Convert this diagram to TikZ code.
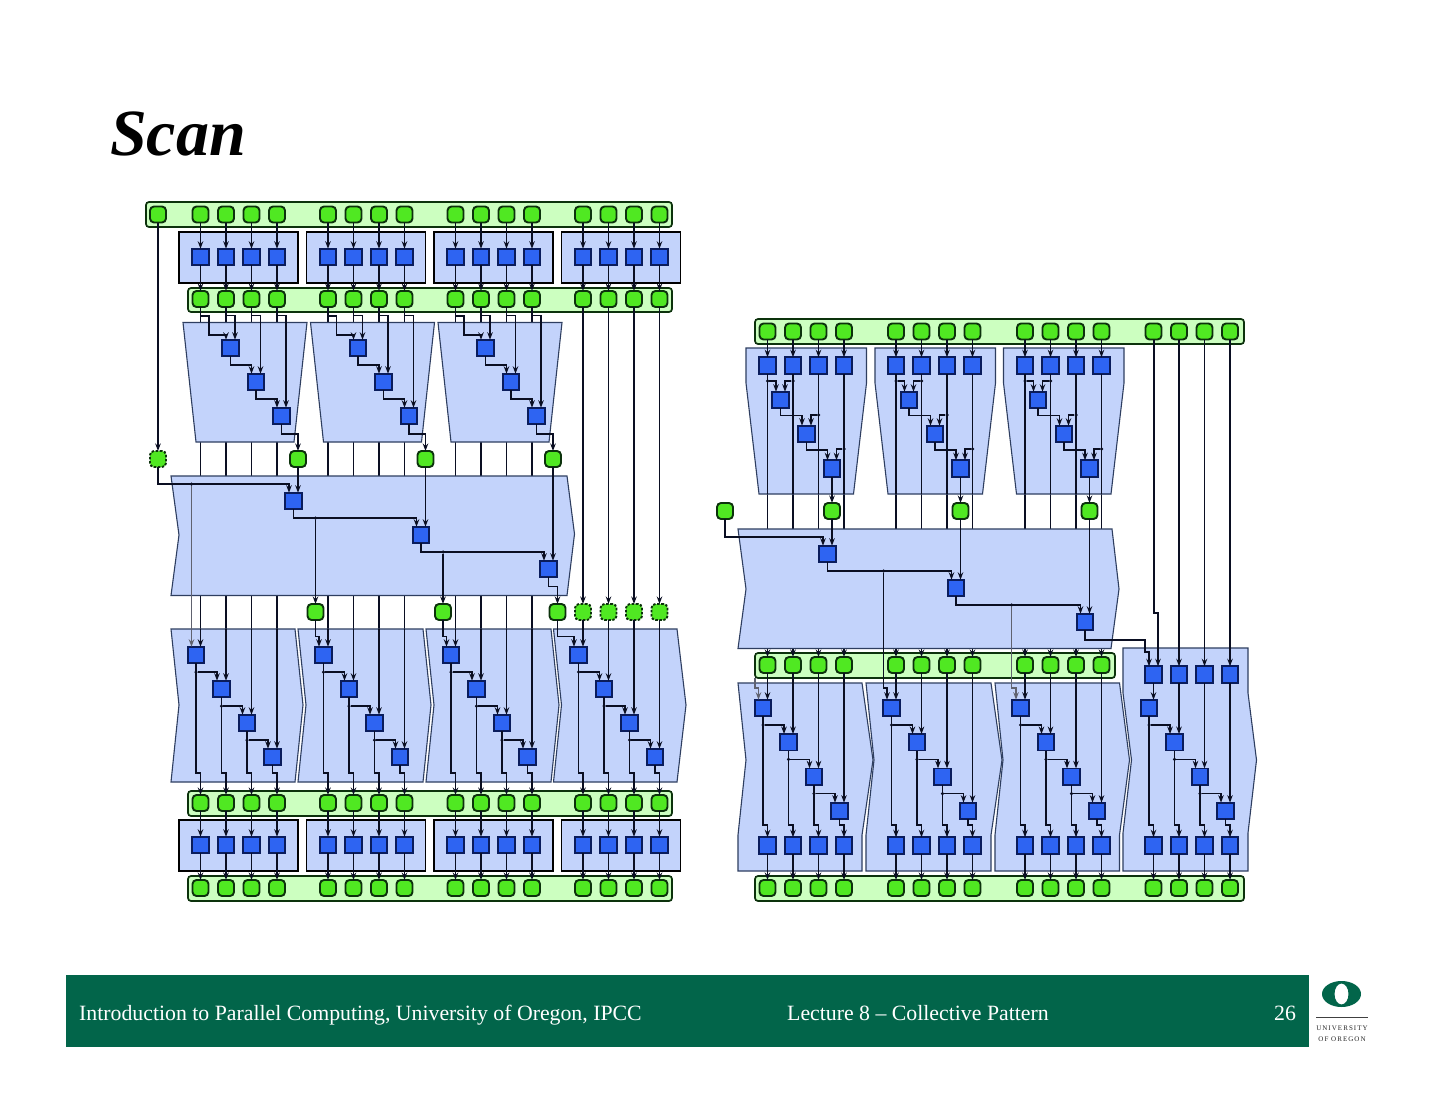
\documentclass[tikz,border=0pt]{standalone}
\usepackage{fontspec}
\setmainfont{Liberation Serif}
\newfontfamily\logofont[LetterSpace=15]{Liberation Serif}
\usetikzlibrary{arrows.meta}
\pgfdeclarelayer{under}
\pgfdeclarelayer{panel}
\pgfsetlayers{under,panel,main}
\definecolor{gfill}{HTML}{50E822}
\definecolor{gline}{HTML}{0C320C}
\definecolor{bfill}{HTML}{2E64F2}
\definecolor{bline}{HTML}{0A1C5C}
\definecolor{pfill}{HTML}{C3D3FB}
\definecolor{pline}{HTML}{2E3E60}
\definecolor{barfill}{HTML}{CCFFC0}
\definecolor{uogreen}{HTML}{02654A}
\definecolor{wire}{HTML}{0A0E22}
\tikzset{
  gn/.style={draw=gline,fill=gfill,line width=1.9pt,rounded corners=4pt,minimum size=16pt,inner sep=0pt,outer sep=0pt},
  gnd/.style={gn,dash pattern=on 2.5pt off 1.5pt},
  sq/.style={draw=bline,fill=bfill,line width=1.7pt,minimum size=16.5pt,inner sep=0pt,outer sep=0pt},
  dot/.style={circle,fill=wire,minimum size=3.5pt,inner sep=0pt,outer sep=0pt},
  wr/.style={draw=wire,line width=1.5pt},
  conn/.style={wr,-{Stealth[length=7.5pt,width=5.5pt]}},
  fat/.style={line width=2pt},
  faint/.style={draw=wire!65!white,line width=1.2pt},
  pan/.style={fill=pfill,draw=pline,line width=1.1pt,line join=miter},
  box/.style={fill=pfill,draw=black,line width=1.7pt},
  bar/.style={fill=barfill,draw=gline,line width=1.7pt,rounded corners=3pt},
  foot/.style={text=white,font=\fontsize{21.8pt}{24pt}\selectfont,inner sep=0pt,anchor=base west}
}
\begin{document}
\begin{tikzpicture}[x=1pt,y=-1pt]
\useasboundingbox (0,0) rectangle (1440,1113);
\begin{pgfonlayer}{under}
\fill[white] (0,0) rectangle (1440,1113);
\end{pgfonlayer}
% ---------- title and footer
\node[font=\fontsize{66pt}{70pt}\selectfont\bfseries\itshape,inner sep=0pt,anchor=base west] (title) at (110,155) {Scan};
\fill[uogreen] (66,975) rectangle (1309,1047);
\node[foot] (f1) at (79,1020) {Introduction to Parallel Computing, University of Oregon, IPCC};
\node[foot] (f2) at (787,1020) {Lecture 8 -- Collective Pattern};
\node[foot] (f3) at (1274,1020) {26};
\fill[uogreen,even odd rule] (1341.5,994) ellipse [x radius=19.5,y radius=13] (1341.5,994) ellipse [x radius=7,y radius=10.5];
\draw[black!75,line width=0.8pt] (1316,1017) -- (1368,1017);
\node[font=\logofont\fontsize{7pt}{8pt}\selectfont,text=black!85,inner sep=0pt] (u1) at (1342,1028) {UNIVERSITY};
\node[font=\logofont\fontsize{7pt}{8pt}\selectfont,text=black!85,inner sep=0pt] (u2) at (1342,1039.5) {OF OREGON};
% ========== LEFT DIAGRAM ==========
\begin{pgfonlayer}{panel}
\draw[bar] (146,202) rectangle (672,227);
\draw[bar] (188,288) rectangle (672,312);
\draw[bar] (188,791) rectangle (672,816);
\draw[bar] (188,876) rectangle (672,901);
\draw[pan] (171,476) -- (567,476) -- (574.5,534) -- (567,595.5) -- (171,595.5) -- (179,535) -- cycle;
\foreach \l/\r/\t in {171/295/8,298/423/8,426/551/8,553.5/677/9}{
  \draw[pan] (\l,629) -- (\r,629) -- (\r+\t,705) -- (\r,782) -- (\l,782) -- (\l+8,705) -- cycle;
}
\end{pgfonlayer}
\node[gn] (t0) at (158,214.5) {};
\node[gnd] (d0) at (158,459) {};
\draw[conn] (t0) -- (d0);
\foreach \g/\b in {1/200.5,2/328,3/455.5,4/583}{
  \begin{pgfonlayer}{panel}
    \draw[box] (\b-21.5,232) rectangle (\b+97.5,283);
    \draw[box] (\b-21.5,820) rectangle (\b+97.5,871);
  \end{pgfonlayer}
  \foreach \i/\d in {1/0,2/25.5,3/51,4/76.5}{
    \node[gn] (t\g-\i) at (\b+\d,214.5) {};
    \node[sq] (u\g-\i) at (\b+\d,257) {};
    \node[gn] (v\g-\i) at (\b+\d,299) {};
    \node[sq] (p\g-\i) at (\b+\d-4.5,655+34*\i-34) {};
    \node[gn] (w\g-\i) at (\b+\d,803) {};
    \node[sq] (x\g-\i) at (\b+\d,845) {};
    \node[gn] (z\g-\i) at (\b+\d,888) {};
    \coordinate (pj\g-\i) at (\b+\d-4.5,773);
    \draw[conn] (t\g-\i) -- (u\g-\i);
    \draw[conn] (u\g-\i) -- (v\g-\i);
    \draw[conn] (p\g-\i.south) -- (pj\g-\i) -| (w\g-\i.north);
    \draw[conn] (w\g-\i) -- (x\g-\i);
    \draw[conn] (x\g-\i) -- (z\g-\i);
  }
  \foreach \i/\n/\d in {1/2/0,2/3/25.5,3/4/51}{
    \node[dot] (pd\g-\i) at (\b+\d-4.5,672+34*\i-34) {};
    \draw[conn] (pd\g-\i) -| ([xshift=-4.5]p\g-\n.north);
  }
}
% three reduction trapezoids and what hangs off them
\foreach \g/\b in {1/200.5,2/328,3/455.5}{
  \begin{pgfonlayer}{panel}
    \draw[pan] (\b-17.5,322.5) -- (\b+106.5,322.5) -- (\b+93.5,442) -- (\b-4.5,442) -- cycle;
  \end{pgfonlayer}
  \node[sq] (s\g-1) at (\b+30,348) {};
  \node[sq] (s\g-2) at (\b+55.5,382) {};
  \node[sq] (s\g-3) at (\b+81,416) {};
  \node[gn] (m\g) at (\b+97.5,459) {};
  \node[sq] (b\g) at (\b+93,501+34*\g-34) {};
  \coordinate (ja\g) at (\b+8.5,316);
  \coordinate (jb\g) at (\b+8.5,335);
  \draw[conn] (v\g-1.south) |- (ja\g) -- (jb\g) -| ([xshift=-4.5]s\g-1.north);
  \draw[conn] (v\g-2.south) -- ++(0,8.5) -| ([xshift=4.5]s\g-1.north);
  \draw[conn] (v\g-3.south) -- ++(0,8.5) -| ([xshift=4.5]s\g-2.north);
  \draw[conn] (v\g-4.south) -- ++(0,8.5) -| ([xshift=4.5]s\g-3.north);
  \draw[conn] (s\g-1.south) -- ++(0,8.5) -| ([xshift=-4.5]s\g-2.north);
  \draw[conn] (s\g-2.south) -- ++(0,8.5) -| ([xshift=-4.5]s\g-3.north);
  \draw[conn] (s\g-3.south) -- ++(0,9.5) -| (m\g.north);
  \draw[conn] (m\g) -- ([xshift=4.5]b\g.north);
  \foreach \i/\d in {1/0,2/25.5,3/51,4/76.5}{
    \coordinate (in\g-\i) at (\b+\d,629);
    \begin{pgfonlayer}{under}
      \draw[wr] (v\g-\i.south) -- (in\g-\i);
    \end{pgfonlayer}
    \draw[conn] (in\g-\i) -- ([xshift=4.5]p\g-\i.north);
  }
}
% scan band chain
\draw[conn,fat] (d0.south) -- ++(0,16.5) -| ([xshift=-4.5]b1.north);
\draw[conn] (b1.south) -- ++(0,8.5) -| ([xshift=-4.5]b2.north);
\draw[conn] (b2.south) -- ++(0,8.5) -| ([xshift=-4.5]b3.north);
\node[dot] (bd0) at (191.5,484) {};
\node[dot] (bd1) at (315.5,518) {};
\node[dot] (bd2) at (443,552) {};
\node[gn] (r2) at (315.5,612) {};
\node[gn] (r3) at (443,612) {};
\node[gn] (r4) at (557.5,612) {};
\draw[conn,faint] (bd0) -- ([xshift=-4.5]p1-1.north);
\draw[conn] (bd1) -- (r2);
\draw[conn] (bd2) -- (r3);
\draw[conn] (b3.south) -- ++(0,9) -| (r4.north);
\draw[conn] (r2.south) -- ++(0,16.5) -| ([xshift=-4.5]p2-1.north);
\draw[conn] (r3.south) -- ++(0,16.5) -| ([xshift=-4.5]p3-1.north);
\draw[conn] (r4.south) -- ++(0,16.5) -| ([xshift=-4.5]p4-1.north);
\foreach \i/\d in {1/0,2/25.5,3/51,4/76.5}{
  \node[gnd] (e\i) at (583+\d,612) {};
  \draw[conn] (v4-\i) -- (e\i);
  \draw[conn] (e\i) -- ([xshift=4.5]p4-\i.north);
}
% ========== RIGHT DIAGRAM ==========
\begin{pgfonlayer}{panel}
\draw[bar] (755,319) rectangle (1244,344);
\draw[bar] (755,653) rectangle (1115,678);
\draw[bar] (755,876) rectangle (1244,901);
\draw[pan] (738,529) -- (1112,529) -- (1119,589) -- (1111,648.5) -- (738,648.5) -- (746,589) -- cycle;
\foreach \l/\r/\t in {738/862/11,866/991/11,995/1119.5/10}{
  \draw[pan] (\l,683) -- (\r,683) -- (\r+\t,760) -- (\r,835) -- (\r,871) -- (\l,871) -- (\l,835) -- (\l+8,760) -- cycle;
}
\draw[pan] (1123,648) -- (1248,648) -- (1248,693) -- (1256.5,760) -- (1248,833) -- (1248,871) -- (1123,871) -- (1123,833) -- (1131.5,760) -- (1123,693) -- cycle;
\end{pgfonlayer}
\foreach \g/\b in {1/767.5,2/896,3/1025,4/1153.5}{
  \foreach \i/\d in {1/0,2/25.5,3/51,4/76.5}{
    \node[gn] (T\g-\i) at (\b+\d,331.5) {};
    \node[sq] (Q\g-\i) at (\b+\d-4.5,708+34.3*\i-34.3) {};
    \node[sq] (W\g-\i) at (\b+\d,845.5) {};
    \node[gn] (Z\g-\i) at (\b+\d,888) {};
    \coordinate (Qj\g-\i) at (\b+\d-4.5,825);
    \draw[conn] (Q\g-\i.south) -- (Qj\g-\i) -| (W\g-\i.north);
    \draw[conn] (W\g-\i) -- (Z\g-\i);
  }
  \foreach \i/\n/\d in {1/2/0,2/3/25.5,3/4/51}{
    \node[dot] (Qd\g-\i) at (\b+\d-4.5,725+34.3*\i-34.3) {};
    \draw[conn] (Qd\g-\i) -| ([xshift=-4.5]Q\g-\n.north);
  }
}
\foreach \g/\b/\pl/\pr in {1/767.5/746/866.5,2/896/875/995.5,3/1025/1003.5/1124}{
  \begin{pgfonlayer}{panel}
    \draw[pan] (\pl,348) -- (\pr,348) -- (\pr,383) -- (\pr-13,494) -- (\pl+13,494) -- (\pl,383) -- cycle;
  \end{pgfonlayer}
  \node[sq] (A\g-1) at (\b+13,400) {};
  \node[sq] (A\g-2) at (\b+39,434) {};
  \node[sq] (A\g-3) at (\b+64.5,468.5) {};
  \node[gn] (M\g) at (\b+64.5,511) {};
  \node[sq] (B\g) at (\b+60,554+34*\g-34) {};
  \foreach \i/\d in {1/0,2/25.5,3/51,4/76.5}{
    \node[sq] (U\g-\i) at (\b+\d,365.5) {};
    \node[gn] (Y\g-\i) at (\b+\d,665) {};
    \coordinate (pb\g-\i) at (\b+\d,494);
    \coordinate (bb\g-\i) at (\b+\d,649);
    \draw[conn] (T\g-\i) -- (U\g-\i);
    \draw[wr] (U\g-\i.south) -- (pb\g-\i);
    \begin{pgfonlayer}{under}
      \draw[wr] (pb\g-\i) -- (bb\g-\i);
    \end{pgfonlayer}
    \draw[conn] (bb\g-\i) -- (Y\g-\i);
    \draw[conn] (Y\g-\i) -- ([xshift=4.5]Q\g-\i.north);
  }
  \node[dot] (C\g-1) at (\b,381) {};
  \node[dot] (C\g-2) at (\b+25.5,381) {};
  \node[dot] (C\g-3) at (\b+51,415) {};
  \node[dot] (C\g-4) at (\b+76.5,449) {};
  \draw[conn] (C\g-1) -| ([xshift=-4.5]A\g-1.north);
  \draw[conn] (C\g-2) -| ([xshift=4.5]A\g-1.north);
  \draw[conn] (C\g-3) -| ([xshift=4.5]A\g-2.north);
  \draw[conn] (C\g-4) -| ([xshift=4.5]A\g-3.north);
  \draw[conn] (A\g-1.south) -- ++(0,7) -| ([xshift=-4.5]A\g-2.north);
  \draw[conn] (A\g-2.south) -- ++(0,7.5) -| ([xshift=-4.5]A\g-3.north);
  \draw[conn] (A\g-3) -- (M\g);
  \draw[conn] (M\g) -- ([xshift=4.5]B\g.north);
}
% fourth column, passed through to the last group
\foreach \i/\d in {1/0,2/25.5,3/51,4/76.5}{
  \node[sq] (V\i) at (1153.5+\d,674.5) {};
  \draw[conn] (V\i) -- ([xshift=4.5]Q4-\i.north);
}
\draw[conn,fat] (T4-1.south) -- ++(0,273.5) -| ([xshift=4.5]V1.north);
\foreach \i in {2,3,4}{ \draw[conn] (T4-\i) -- (V\i); }
% scan chain, right
\node[gn] (L0) at (725,511) {};
\draw[conn] (L0.south) -- ++(0,18) -| ([xshift=-4.5]B1.north);
\draw[conn] (B1.south) -- ++(0,8.5) -| ([xshift=-4.5]B2.north);
\draw[conn] (B2.south) -- ++(0,8.5) -| ([xshift=-4.5]B3.north);
\node[dot] (D1) at (883.5,571) {};
\node[dot] (D2) at (1011.5,605) {};
\coordinate (E0) at (755,678);
\coordinate (E1) at (755,688);
\coordinate (E2) at (883.5,688);
\coordinate (E3) at (1011.5,688);
\coordinate (E4) at (1145,640);
\coordinate (E5) at (1145,652);
\draw[conn,faint] (E0) -- (E1) -| ([xshift=-4.5]Q1-1.north);
\draw[conn] (D1) -- (E2) -| ([xshift=-4.5]Q2-1.north);
\draw[conn,faint] (D2) -- (E3) -| ([xshift=-4.5]Q3-1.north);
\draw[conn,fat] (B3.south) |- (E4) -- (E5) -| ([xshift=-4.5]V1.north);
\end{tikzpicture}
\end{document}
